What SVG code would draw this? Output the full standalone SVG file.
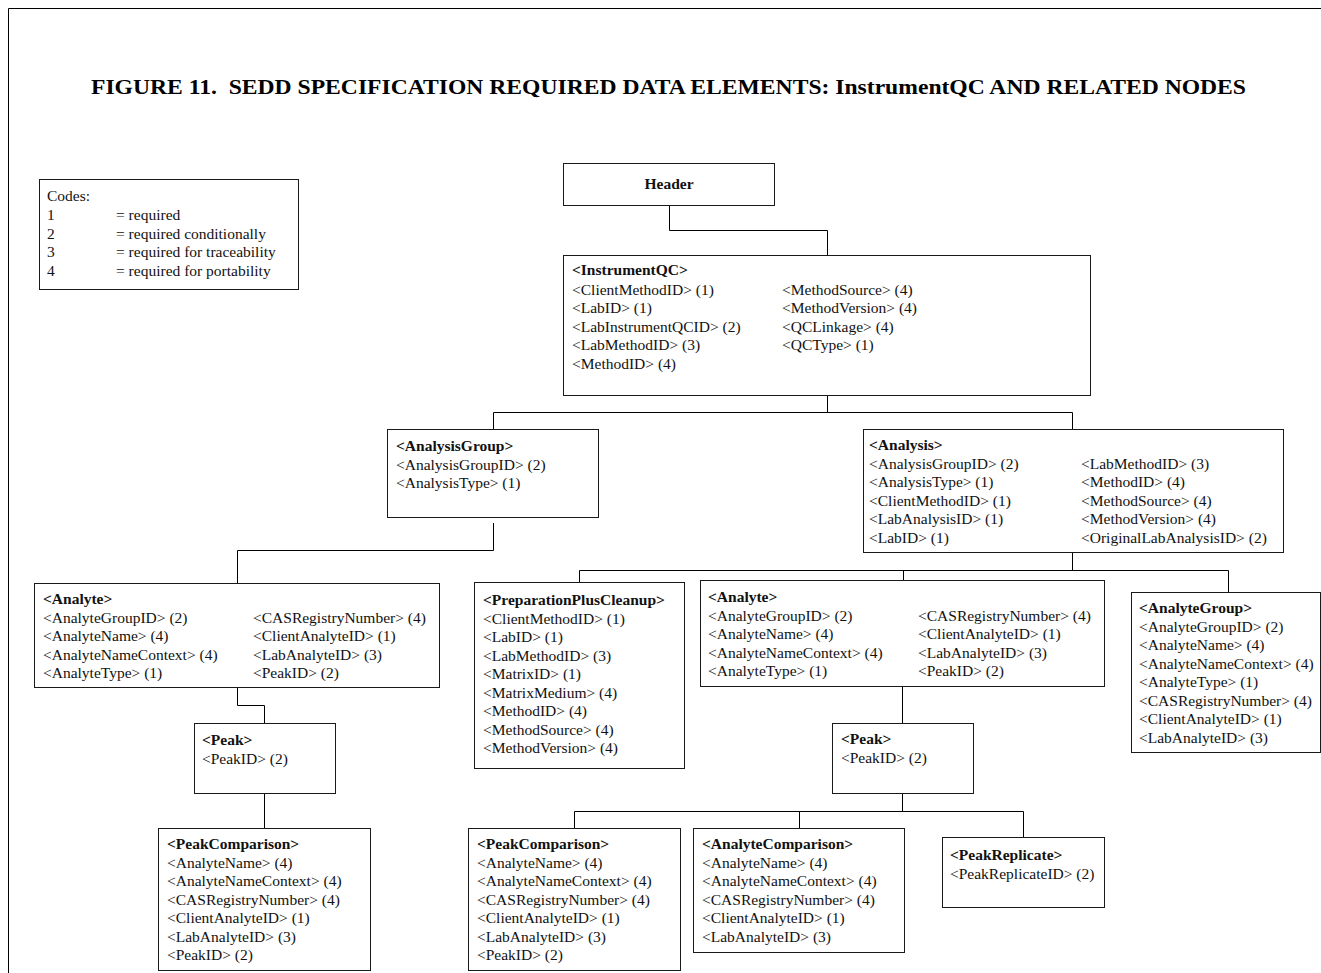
<svg xmlns="http://www.w3.org/2000/svg" width="1321" height="973" viewBox="0 0 1321 973">
  <style>
    .box { fill: #fff; stroke: #1a1a1a; stroke-width: 1; }
    .t { font-family: "Liberation Serif", "Times New Roman", serif; font-size: 15.5px; fill: #111; }
    .b { font-weight: bold; }
    .title { font-family: "Liberation Serif", "Times New Roman", serif; font-size: 20.5px; font-weight: bold; fill: #000; }
    .wire { fill: none; stroke: #000; stroke-width: 1; }
  </style>

  <rect x="0" y="0" width="1321" height="973" fill="#fff"/>
  <!-- page frame -->
  <path class="wire" d="M8.5,973 V8.5 H1321"/>

  <text class="title" x="91" y="94" textLength="1155" lengthAdjust="spacingAndGlyphs">FIGURE 11.&#160; SEDD SPECIFICATION REQUIRED DATA ELEMENTS: InstrumentQC AND RELATED NODES</text>

  <!-- legend -->
  <g id="codes">
    <rect class="box" x="39.5" y="179.5" width="259" height="110"/>
    <text class="t" x="47" y="201">Codes:</text>
    <text class="t" x="47" y="220">1</text><text class="t" x="116" y="220">= required</text>
    <text class="t" x="47" y="238.5">2</text><text class="t" x="116" y="238.5">= required conditionally</text>
    <text class="t" x="47" y="257">3</text><text class="t" x="116" y="257">= required for traceability</text>
    <text class="t" x="47" y="275.5">4</text><text class="t" x="116" y="275.5">= required for portability</text>
  </g>

  <!-- connectors -->
  <g id="connectors">
    <path class="wire" d="M669.5,205 V230.5 H827.5 V255"/>
    <path class="wire" d="M827.5,395 V412.5"/>
    <path class="wire" d="M493.5,429 V412.5 H1072.5 V429"/>
    <path class="wire" d="M493.5,523 V550.5 H237.5 V583"/>
    <path class="wire" d="M1072.5,552 V570.5"/>
    <path class="wire" d="M579.5,582 V570.5 H1228.5 V592"/>
    <path class="wire" d="M903.5,570.5 V580"/>
    <path class="wire" d="M237.5,687 V705.5 H264.5 V723"/>
    <path class="wire" d="M264.5,793 V828"/>
    <path class="wire" d="M902.5,686 V723"/>
    <path class="wire" d="M902.5,793 V811.5"/>
    <path class="wire" d="M574.5,828 V811.5 H1023.5 V837"/>
    <path class="wire" d="M799.5,811.5 V828"/>
  </g>

  <g id="header">
    <rect class="box" x="563.5" y="163.5" width="211" height="42"/>
    <text class="t b" x="669" y="189" text-anchor="middle">Header</text>
  </g>

  <g id="instrument-qc">
    <rect class="box" x="563.5" y="255.5" width="527" height="140"/>
    <text class="t b" x="572" y="275">&lt;InstrumentQC&gt;</text>
    <text class="t" x="572" y="294.6">&lt;ClientMethodID&gt; (1)</text>
    <text class="t" x="572" y="313.2">&lt;LabID&gt; (1)</text>
    <text class="t" x="572" y="331.8">&lt;LabInstrumentQCID&gt; (2)</text>
    <text class="t" x="572" y="350.4">&lt;LabMethodID&gt; (3)</text>
    <text class="t" x="572" y="369">&lt;MethodID&gt; (4)</text>
    <text class="t" x="782" y="294.6">&lt;MethodSource&gt; (4)</text>
    <text class="t" x="782" y="313.2">&lt;MethodVersion&gt; (4)</text>
    <text class="t" x="782" y="331.8">&lt;QCLinkage&gt; (4)</text>
    <text class="t" x="782" y="350.4">&lt;QCType&gt; (1)</text>
  </g>

  <g id="analysis-group">
    <rect class="box" x="387.5" y="429.5" width="211" height="88"/>
    <text class="t b" x="396" y="451">&lt;AnalysisGroup&gt;</text>
    <text class="t" x="396" y="469.5">&lt;AnalysisGroupID&gt; (2)</text>
    <text class="t" x="396" y="488">&lt;AnalysisType&gt; (1)</text>
  </g>

  <g id="analysis">
    <rect class="box" x="863.5" y="429.5" width="420" height="123"/>
    <text class="t b" x="869" y="450">&lt;Analysis&gt;</text>
    <text class="t" x="869" y="468.5">&lt;AnalysisGroupID&gt; (2)</text>
    <text class="t" x="869" y="487">&lt;AnalysisType&gt; (1)</text>
    <text class="t" x="869" y="505.5">&lt;ClientMethodID&gt; (1)</text>
    <text class="t" x="869" y="524">&lt;LabAnalysisID&gt; (1)</text>
    <text class="t" x="869" y="542.5">&lt;LabID&gt; (1)</text>
    <text class="t" x="1081" y="468.5">&lt;LabMethodID&gt; (3)</text>
    <text class="t" x="1081" y="487">&lt;MethodID&gt; (4)</text>
    <text class="t" x="1081" y="505.5">&lt;MethodSource&gt; (4)</text>
    <text class="t" x="1081" y="524">&lt;MethodVersion&gt; (4)</text>
    <text class="t" x="1081" y="542.5">&lt;OriginalLabAnalysisID&gt; (2)</text>
  </g>

  <g id="analyte-left">
    <rect class="box" x="34.5" y="583.5" width="405" height="104"/>
    <text class="t b" x="43" y="604">&lt;Analyte&gt;</text>
    <text class="t" x="43" y="622.5">&lt;AnalyteGroupID&gt; (2)</text>
    <text class="t" x="43" y="641">&lt;AnalyteName&gt; (4)</text>
    <text class="t" x="43" y="659.5">&lt;AnalyteNameContext&gt; (4)</text>
    <text class="t" x="43" y="678">&lt;AnalyteType&gt; (1)</text>
    <text class="t" x="253" y="622.5">&lt;CASRegistryNumber&gt; (4)</text>
    <text class="t" x="253" y="641">&lt;ClientAnalyteID&gt; (1)</text>
    <text class="t" x="253" y="659.5">&lt;LabAnalyteID&gt; (3)</text>
    <text class="t" x="253" y="678">&lt;PeakID&gt; (2)</text>
  </g>

  <g id="preparation-plus-cleanup">
    <rect class="box" x="474.5" y="582.5" width="210" height="186"/>
    <text class="t b" x="483" y="605">&lt;PreparationPlusCleanup&gt;</text>
    <text class="t" x="483" y="623.5">&lt;ClientMethodID&gt; (1)</text>
    <text class="t" x="483" y="642">&lt;LabID&gt; (1)</text>
    <text class="t" x="483" y="660.5">&lt;LabMethodID&gt; (3)</text>
    <text class="t" x="483" y="679">&lt;MatrixID&gt; (1)</text>
    <text class="t" x="483" y="697.5">&lt;MatrixMedium&gt; (4)</text>
    <text class="t" x="483" y="716">&lt;MethodID&gt; (4)</text>
    <text class="t" x="483" y="734.5">&lt;MethodSource&gt; (4)</text>
    <text class="t" x="483" y="753">&lt;MethodVersion&gt; (4)</text>
  </g>

  <g id="analyte-mid">
    <rect class="box" x="700.5" y="580.5" width="404" height="106"/>
    <text class="t b" x="708" y="602">&lt;Analyte&gt;</text>
    <text class="t" x="708" y="620.5">&lt;AnalyteGroupID&gt; (2)</text>
    <text class="t" x="708" y="639">&lt;AnalyteName&gt; (4)</text>
    <text class="t" x="708" y="657.5">&lt;AnalyteNameContext&gt; (4)</text>
    <text class="t" x="708" y="676">&lt;AnalyteType&gt; (1)</text>
    <text class="t" x="918" y="620.5">&lt;CASRegistryNumber&gt; (4)</text>
    <text class="t" x="918" y="639">&lt;ClientAnalyteID&gt; (1)</text>
    <text class="t" x="918" y="657.5">&lt;LabAnalyteID&gt; (3)</text>
    <text class="t" x="918" y="676">&lt;PeakID&gt; (2)</text>
  </g>

  <g id="analyte-group">
    <rect class="box" x="1131.5" y="592.5" width="189" height="160"/>
    <text class="t b" x="1139" y="613">&lt;AnalyteGroup&gt;</text>
    <text class="t" x="1139" y="631.5">&lt;AnalyteGroupID&gt; (2)</text>
    <text class="t" x="1139" y="650">&lt;AnalyteName&gt; (4)</text>
    <text class="t" x="1139" y="668.5">&lt;AnalyteNameContext&gt; (4)</text>
    <text class="t" x="1139" y="687">&lt;AnalyteType&gt; (1)</text>
    <text class="t" x="1139" y="705.5">&lt;CASRegistryNumber&gt; (4)</text>
    <text class="t" x="1139" y="724">&lt;ClientAnalyteID&gt; (1)</text>
    <text class="t" x="1139" y="742.5">&lt;LabAnalyteID&gt; (3)</text>
  </g>

  <g id="peak-left">
    <rect class="box" x="194.5" y="723.5" width="141" height="70"/>
    <text class="t b" x="202" y="745">&lt;Peak&gt;</text>
    <text class="t" x="202" y="764">&lt;PeakID&gt; (2)</text>
  </g>

  <g id="peak-mid">
    <rect class="box" x="832.5" y="723.5" width="141" height="70"/>
    <text class="t b" x="841" y="744">&lt;Peak&gt;</text>
    <text class="t" x="841" y="763">&lt;PeakID&gt; (2)</text>
  </g>

  <g id="peak-comparison-left">
    <rect class="box" x="158.5" y="828.5" width="212" height="142"/>
    <text class="t b" x="167" y="849">&lt;PeakComparison&gt;</text>
    <text class="t" x="167" y="867.5">&lt;AnalyteName&gt; (4)</text>
    <text class="t" x="167" y="886">&lt;AnalyteNameContext&gt; (4)</text>
    <text class="t" x="167" y="904.5">&lt;CASRegistryNumber&gt; (4)</text>
    <text class="t" x="167" y="923">&lt;ClientAnalyteID&gt; (1)</text>
    <text class="t" x="167" y="941.5">&lt;LabAnalyteID&gt; (3)</text>
    <text class="t" x="167" y="960">&lt;PeakID&gt; (2)</text>
  </g>

  <g id="peak-comparison-mid">
    <rect class="box" x="468.5" y="828.5" width="212" height="142"/>
    <text class="t b" x="477" y="849">&lt;PeakComparison&gt;</text>
    <text class="t" x="477" y="867.5">&lt;AnalyteName&gt; (4)</text>
    <text class="t" x="477" y="886">&lt;AnalyteNameContext&gt; (4)</text>
    <text class="t" x="477" y="904.5">&lt;CASRegistryNumber&gt; (4)</text>
    <text class="t" x="477" y="923">&lt;ClientAnalyteID&gt; (1)</text>
    <text class="t" x="477" y="941.5">&lt;LabAnalyteID&gt; (3)</text>
    <text class="t" x="477" y="960">&lt;PeakID&gt; (2)</text>
  </g>

  <g id="analyte-comparison">
    <rect class="box" x="693.5" y="828.5" width="211" height="124"/>
    <text class="t b" x="702" y="849">&lt;AnalyteComparison&gt;</text>
    <text class="t" x="702" y="867.5">&lt;AnalyteName&gt; (4)</text>
    <text class="t" x="702" y="886">&lt;AnalyteNameContext&gt; (4)</text>
    <text class="t" x="702" y="904.5">&lt;CASRegistryNumber&gt; (4)</text>
    <text class="t" x="702" y="923">&lt;ClientAnalyteID&gt; (1)</text>
    <text class="t" x="702" y="941.5">&lt;LabAnalyteID&gt; (3)</text>
  </g>

  <g id="peak-replicate">
    <rect class="box" x="942.5" y="837.5" width="162" height="70"/>
    <text class="t b" x="950" y="860">&lt;PeakReplicate&gt;</text>
    <text class="t" x="950" y="878.5">&lt;PeakReplicateID&gt; (2)</text>
  </g>
</svg>
